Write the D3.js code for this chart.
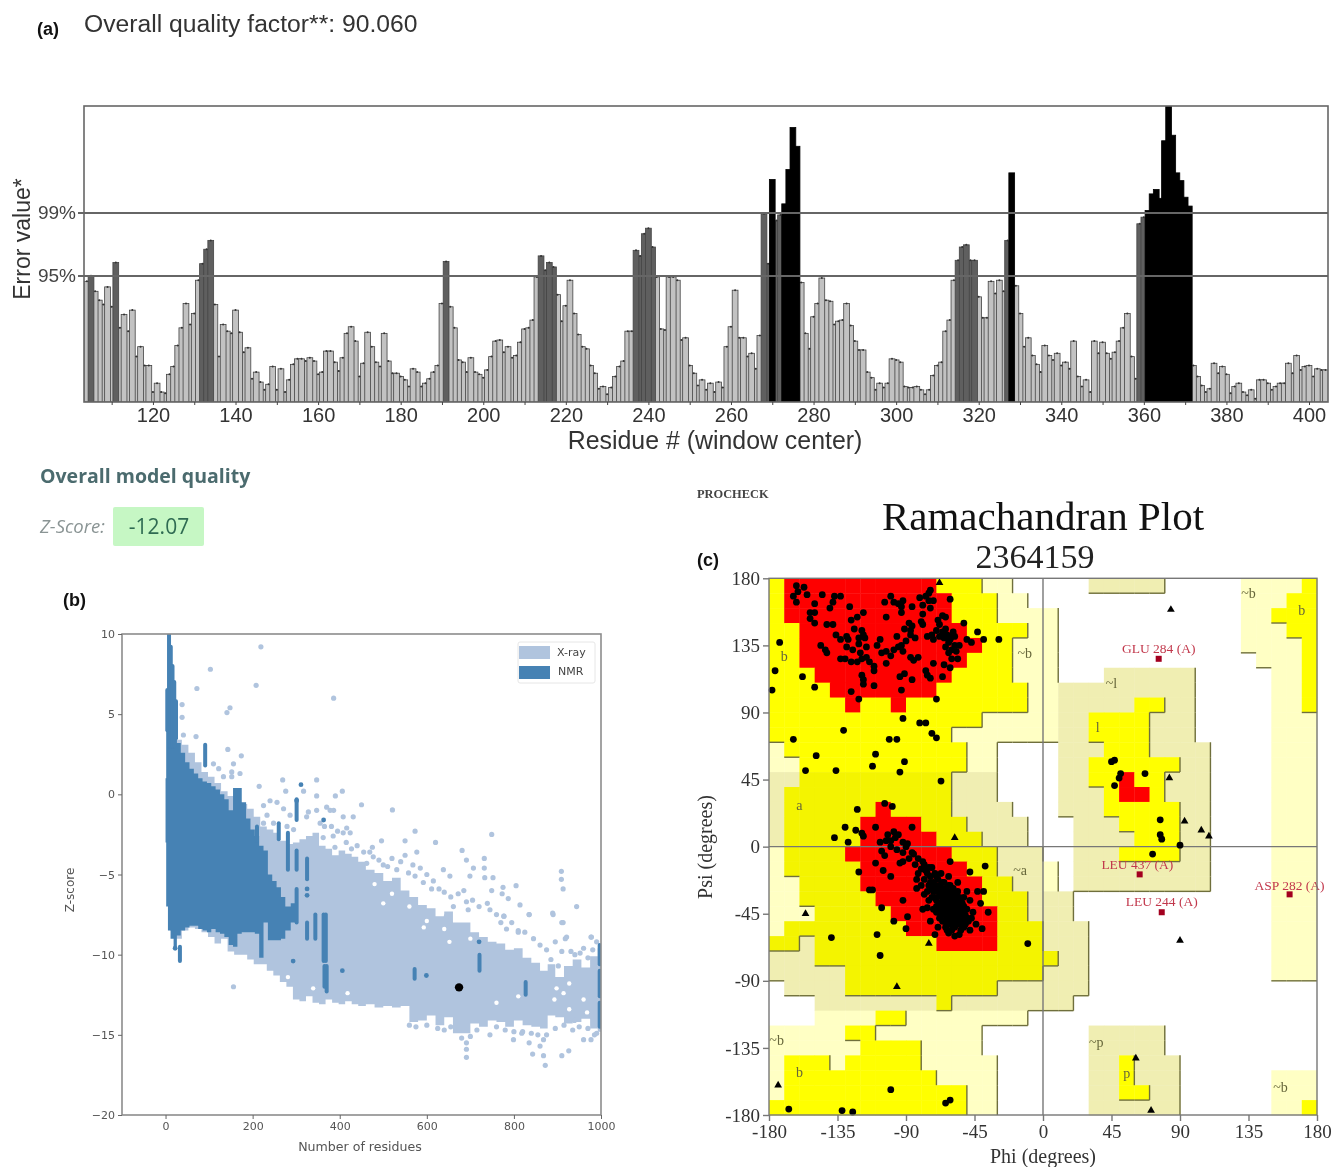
<!DOCTYPE html>
<html>
<head>
<meta charset="utf-8">
<script src="https://cdn.jsdelivr.net/npm/d3@7"></script>
<style>
  html, body { margin: 0; padding: 0; background: #fff; }
  svg { display: block; filter: blur(0.5px); }
</style>
</head>
<body>
<div id="chart"></div>
<script>
// (a) ERRAT error value per residue, first bar is residue 104
const firstResidue = 104
const errorValues = [
  10.9,11.4,10.0,9.2,8.8,10.4,8.6,12.6,6.7,7.9,
  6.4,8.3,4.1,5.0,3.3,3.3,0.9,1.7,0.9,0.8,
  2.5,3.2,5.1,6.7,8.9,7.0,8.0,11.0,12.5,13.8,
  14.6,8.8,4.1,7.0,6.4,6.2,8.3,6.3,4.5,4.9,
  2.1,2.7,1.8,1.1,1.6,3.2,1.1,3.0,0.9,2.0,
  3.4,3.9,3.9,3.7,4.0,3.7,2.5,2.7,4.6,4.6,
  3.6,2.8,4.0,6.2,6.8,5.5,2.3,3.5,6.3,5.0,
  3.6,3.2,6.2,3.7,2.6,2.6,2.3,2.0,1.4,3.0,
  2.7,1.4,1.7,2.1,2.7,3.3,8.9,12.7,8.6,6.7,
  3.8,3.6,2.7,4.0,2.7,2.5,2.2,2.9,4.1,5.5,
  5.6,4.5,5.0,4.0,4.2,5.4,6.6,6.7,7.4,11.3,
  13.2,11.9,12.6,12.2,9.7,7.3,8.7,11.0,8.0,6.1,
  5.0,4.8,3.3,2.6,1.2,1.4,0.7,1.3,2.3,3.2,
  3.7,6.4,6.4,13.7,13.2,15.2,15.7,14.0,11.3,6.6,
  6.5,11.3,11.3,11.0,5.6,5.8,3.3,2.6,1.5,2.0,
  1.1,1.7,0.9,1.8,1.3,5.0,6.8,10.1,5.8,5.8,
  4.1,4.4,3.0,6.0,17.0,12.5,20.1,16.4,16.9,17.9,
  21.0,24.8,23.1,10.8,6.2,4.8,7.7,8.9,11.2,9.2,
  9.1,7.0,7.3,7.4,8.9,6.9,5.5,4.7,4.7,2.7,
  2.2,1.1,1.7,1.3,1.7,3.9,3.8,3.6,1.4,1.3,
  1.3,1.4,1.1,0.7,1.1,2.4,3.3,3.6,6.4,7.4,
  11.0,12.8,14.0,14.2,12.8,12.8,9.5,7.6,7.6,10.9,
  9.8,11.0,10.0,14.6,20.7,10.5,8.0,5.0,5.8,4.2,
  3.4,2.7,5.1,4.2,3.8,4.4,3.3,3.6,3.0,5.5,
  2.3,1.4,2.0,0.9,5.5,4.4,5.4,4.4,3.9,4.5,
  5.5,6.7,8.0,4.1,2.1,16.1,16.7,17.3,18.8,19.2,
  18.4,23.6,27,24.1,20.7,20.0,18.5,17.7,3.3,2.3,
  1.5,0.9,1.2,3.5,2.6,3.2,2.5,0.8,1.4,1.7,
  0.9,0.6,1.1,0.3,2.0,2.0,1.7,1.1,1.4,1.7,
  1.7,3.5,2.6,4.2,2.9,3.2,3.3,2.3,3.0,2.9,
  2.9,
]
const limit95 = 11.38
const limit99 = 17.07

// (b) envelopes of the dense clouds, [residues, top z, bottom z]
const xrayBody = [
  [5,4,-6],[15,4.2,-8.5],[30,3.4,-9],[45,3.1,-8.5],[60,2.6,-8.3],[75,2,-8.4],[90,1.4,-8.6],[105,1.1,-8.9],
  [120,0.7,-9.3],[135,0.2,-9],[150,-0.1,-9.8],[165,-0.2,-10],[180,-0.6,-10],[195,-0.9,-10.3],[210,-1.4,-10.6],
  [225,-2,-10.6],[240,-2.2,-11],[255,-2.4,-11.3],[270,-2.9,-11.7],[285,-3.1,-12],[300,-3,-12.8],[315,-2.8,-12.9],
  [330,-2.6,-12.6],[345,-2.4,-13],[360,-3.2,-13.1],[375,-3.4,-12.8],[390,-3.8,-13],[405,-3.5,-13.1],[420,-3.7,-12.9],
  [435,-3.9,-13.1],[450,-4.2,-13.2],[470,-4.7,-13.1],[490,-4.9,-13.3],[510,-5.4,-13.2],[530,-5.2,-13.3],[550,-6,-13.2],
  [570,-6.4,-14.2],[590,-6.9,-14.1],[610,-7.1,-13.8],[630,-7.6,-14.4],[650,-7.3,-13.9],[670,-8,-14.9],[690,-8,-14.9],
  [710,-8.6,-14.3],[730,-8.9,-14.5],[750,-9.2,-14.1],[770,-9.3,-14.2],[790,-9.7,-14.5],[810,-9.6,-14.1],[830,-10.2,-14.4],
  [850,-10.5,-14.5],[870,-11,-14.6],[885,-10.6,-13.8],[905,-11.4,-13.9],[925,-10.7,-14.3],[945,-10.3,-14.2],[965,-10.8,-14],
  [985,-10.1,-14.6],[1000,-9.6,-14.8],
]
const nmrBody = [
  [0,1,-3],[3,4,-7],[8,5.5,-8.5],[15,5,-9],[22,4.2,-9.5],[30,3.2,-8.8],[40,2.6,-8.5],[50,2,-8.3],[60,1.6,-8.2],
  [70,1.3,-8.2],[80,1,-8.4],[90,0.8,-8.5],[100,0.7,-8.6],[110,0.5,-8.4],[120,0.3,-8.6],[130,0,-8.7],[140,-0.3,-8.9],
  [150,-1,-9.4],[160,0.4,-9.5],[170,0.4,-8.7],[180,-0.5,-8.6],[190,-1.5,-8.6],[200,-2.2,-8.6],[210,-2.6,-8.7],
  [220,-3.2,-10.2],[230,-3.5,-8],[240,-5,-9.1],[250,-5.4,-9.1],[260,-5.8,-9.1],[270,-6.4,-9],[280,-7,-8.5],[295,-6.8,-8],[305,-7,-7],
]
// vertical NMR streaks, [residues, top z, bottom z]
const nmrBands = [
  [4,6.5,4],[8,10,3],[12,9.2,3],[16,8,3],[20,7,3],[24,5.8,3.5],[91,3.1,1.8],[301,-0.3,-1.6],[260,-1.8,-2.8],[210,-2,-2.9],[281,-2.4,-4.7],
  [301,-3.5,-4.7],[325,-4,-5.3],[301,-5.9,-8],[344,-7.5,-9],[363,-7.5,-10.4],[368,-7.5,-10.4],[370,-10.7,-12.3],
  [365,-10.7,-12],[721,-10,-11],[572,-10.9,-11.5],[827,-11.7,-12.5],[997,-9.4,-10.6],[997,-11,-12.6],[997,-13,-14.5],
  [33,-9.5,-10.4],[325,-8,-9],
]
const nmrDots = [[311,0.6],[301,-0.4],[293,-10.4],[406,-11],[599,-11.3],[720,-9.2],[363,-1.6],[325,-5.9],[325,-6.3],[22,-9.6]]
const xrayDots = [
  [219,9.2],[103,7.8],[72,6.6],[208,6.8],[386,6],[38,5.6],[148,5.4],[141,5.1],[38,4.8],[41,3.7],[70,3.6],[143,2.8],[174,2.4],
  [110,1.9],[122,1.6],[156,1.9],[152,1.4],[171,1.3],[133,1.1],[152,1.1],[215,0.5],[269,0.9],[347,0.9],[276,0.2],[317,0.2],
  [347,-0.1],[390,-0.1],[406,0.2],[328,-1.1],[370,-0.8],[347,-1],[386,-1],[225,-0.7],[240,-0.4],[256,-0.5],[271,-0.9],
  [286,-1.3],[233,-1.3],[248,-1.8],[225,-1.8],[279,-2],[294,-2.2],[450,-0.65],[521,-0.97],[573,-2.3],[749,-2.5],[620,-3],
  [681,-3.5],[496,-2.9],[550,-2.9],[577,-3.6],[550,-3.8],[469,-3.6],[477,-3.9],[638,-4.7],[653,-5.1],[691,-4.1],[707,-4.6],
  [699,-5.1],[732,-4],[732,-4.6],[733,-5.2],[752,-5.2],[749,-6],[775,-5.8],[773,-6.2],[805,-5.7],[909,-4.8],[909,-5.3],
  [913,-5.9],[814,-6.9],[787,-6.5],[739,-6.8],[691,-6.7],[695,-7.2],[944,-7],[835,-7.5],[890,-7.5],[913,-8],[777,-7.6],
  [783,-8.4],[810,-8.6],[921,-8.9],[978,-8.9],[573,-5.1],[592,-5.5],[611,-5.9],[661,-7],[645,-7.6],[500,-4.4],[531,-4.7],
  [462,-4.3],[416,-2.1],[424,-2.4],[408,-2.4],[362,-2.7],[381,-2],[385,-2.6],[324,-1.4],[378,-1],[408,-1.4],[431,-1.4],
  [389,-3.3],[427,-3.4],[691,-15.5],[691,-15.9],[691,-16.4],[156,-12],[745,-15],[799,-15.3],[818,-14.9],[835,-15.5],
  [843,-16.2],[860,-15.7],[868,-15.3],[872,-16.9],[868,-16.3],[910,-16.3],[926,-16],[960,-15.3],[977,-15.3],[885,-10.3],
  [902,-10.7],[910,-9.8],[931,-9.8],[952,-9.9],[981,-9.7],[918,-9],[977,-8.9],[889,-7.4],[910,-8],[777,-7.6],[810,-8.5],
  [835,-7.5],[935,-14.7],[939,-14.1],
  [355,-1.8],[365,-2],[395,-2.3],[415,-3],[440,-3.2],[455,-3.6],[475,-3.3],[490,-4.1],[510,-4.5],[520,-4],[540,-4.2],[558,-4.9],
  [568,-4.4],[585,-4.6],[600,-5],[615,-5.4],[628,-5.9],[640,-6.1],[655,-6.4],[672,-6.2],[685,-6],[705,-6.6],[720,-7],[745,-7.2],
  [760,-7.5],[770,-8],[795,-8],[825,-8.6],[845,-9],[860,-9.4],[875,-9.7],[895,-9.2],[940,-10],[960,-9.6],[970,-10.2],[990,-9.2],
  [560,-14.4],[575,-14.5],[600,-14.4],[625,-14.6],[640,-14.7],[655,-14.5],[680,-15.2],[700,-15.1],[715,-14.7],[760,-14.5],[780,-14.7],
  [800,-14.8],[820,-14.8],[840,-14.9],[855,-15],[875,-15],[895,-14.6],[915,-14.4],[950,-14.5],[970,-14.6],[985,-15],[990,-14.9],
]
const xrayHoles = [
  [652,-9.2],[593,-8.3],[281,-11.4],[339,-12.1],[418,-12.4],[760,-13],[810,-12.6],[898,-12.1],[914,-12.4],[927,-11.8],
  [893,-12.8],[927,-13.4],[960,-12.8],[968,-13.6],[480,-5.6],[520,-6.2],[560,-7],[600,-7.9],[640,-8.4],[500,-6.8],[700,-9],
]
const modelPoint = [[674,-12.04]]

// (c) region map, 10 degree cells, rows from psi 180 down, columns from phi -180
// R core, Y allowed, A allowed (alpha shade), P generous, E generous (darker shade)
const ramaGrid = [
  'YRRRRRRRRRRYYYPP.....EEEEE.....PPPPY',
  'YRRRRRRRRRRRYYYPP..............PPPYY',
  'YRRRRRRRRRRRYYYPPPP............PPYYY',
  'YYRRRRRRRRRRRYYYYPP............PPPYY',
  'YYRRRRRRRRRRRRYYPPP............PPPPY',
  'YYRRRRRRRRRRRYYYPPP.............PPPY',
  'YYYRRRRRRRRRYYYYPPP...EEEEEE.....PPY',
  'YYYYRRRRRRRYYYYYYPPEEEEEEEEE.....PPY',
  'YYYYYRYYRYYYYYYYYPPEEEEEYYEE.....PPY',
  'YYYYYYYYYYYYYYPPPPPEEYYYYEEE.....PPP',
  'YYYYYYYYYYYYPPPPPPPEEYYYYEEE.....PPP',
  'PYYYYYYYYYYYYPP....EEEYYYEEEE....PPP',
  'PPYYYYYYYYYYYPP....EEYYYYYYEE....PPP',
  'EEAAAAAAAAAAEEE....EEYYRYYEEE....PPP',
  'EAAAAAAAAAAAEEE....EEEYRRYEEE....PPP',
  'EAAAAAARAAAAEEEE...EEEYYYYYEE....PPP',
  'EAAAAARRRRAAAEEEE...EEEYYYYEE....PPP',
  'EAAAAARRRRRAAAEEE...EEEEYYYEE....PPP',
  'PAAAARRRRRRRAAAEEE..EEEYYYYEE....PPP',
  'PAAAAARRRRRRRAAEEEP.EEEEEEEEE....PPP',
  'PPAAAARRRRRRRRAAEEP.EEEEEEEEE....PPP',
  'PPAAAAARRRRRRRAAAEEE.............PPP',
  'PPPAAAAARRRRRRRAAEEE.............PPP',
  'PAAAAAAAARRRRRRAAAEEE............PPP',
  'AAEAAAAAAAARRRRAAAEEE............PPP',
  'EEEAAAAAAAAAAAAAAAAEE............PPP',
  'EEEEEAAAAAAAAAAAAAEEE............PPP',
  '.EEEEAAAAAAAAAAEEEEEE...............',
  '...EEEEEEEEAEEEEEEEE................',
  '...PPPPYYPPPPPPPP...................',
  'PPPPPYYPPPPPPP.......EEEEE..........',
  'PPPPPPYYYYPPPP.......EEEEE..........',
  'PYYYPYYYYYPPPPP......EEYEEE.........',
  'PYYYYYYYYYYPPPP......EEYEEE......PPP',
  'PYYYYYYYYYYYYPP......EEYYEE......PPP',
  'YYYYYYYYYYYYYPP......EEEEEE......PPY',
]
const regionColors = { R: '#fe0000', Y: '#ffff00', A: '#f4f400', P: '#ffffc4', E: '#f0eeb2' }
const regionRank = { R: 3, Y: 2, A: 2, P: 1, E: 1 }

const ramaDots = [
  [-162,175],[-157,174],[-161,171],[-155,169],[-164,168],[-162,164],[-150,163],[-145,169],[-137,168],[-133,168],[-138,164],
  [-140,160],[-127,161],[-153,157],[-150,157],[-153,153],[-150,150],[-118,157],[-122,154],[-126,152],[-104,164],[-98,164],
  [-95,163],[-93,161],[-103,154],[-93,157],[-86,161],[-81,167],[-77,168],[-74,172],[-75,165],[-79,162],[-74,160],[-61,166],
  [-66,155],[-64,154],[-69,152],[-52,150],[-88,150],[-86,148],[-80,151],[-79,149],[-142,149],[-138,149],[-136,142],[-133,139],
  [-129,141],[-128,139],[-119,145],[-118,142],[-121,140],[-117,140],[-121,136],[-107,139],[-109,135],[-96,141],[-87,145],
  [-91,146],[-87,142],[-76,141],[-73,142],[-70,145],[-66,144],[-63,142],[-59,144],[-58,141],[-61,139],[-64,134],[-60,132],
  [-57,131],[-62,130],[-50,139],[-47,137],[-43,144],[-39,139],[-29,139],[-173,137],[-146,135],[-143,132],[-142,130],[-103,131],
  [-98,132],[-95,134],[-93,135],[-92,131],[-87,127],[-85,125],[-82,127],[-125,132],[-120,130],[-133,126],[-130,126],[-126,124],
  [-122,124],[-119,126],[-114,124],[-111,121],[-111,118],[-103,123],[-72,123],[-65,122],[-61,120],[-91,116],[-94,114],[-86,112],
  [-77,118],[-76,115],[-74,113],[-66,114],[-119,115],[-118,112],[-118,109],[-111,108],[-93,105],[-126,104],[-121,99],[-70,99],
  [-158,114],[-176,118],[-178,105],[-150,107],
  [-65,140],[-62,137],[-60,141],[-68,141],[-72,139],[-58,135],[-55,135],[-64,146],[-68,149],[-79,156],[-75,170],[-72,165],
  [-100,168],[-92,165],[-84,140],[-90,138],[-100,128],[-106,130],[-116,134],[-124,146],[-129,134],[-116,127],[-60,126],[-56,126],
  // below the beta region
  [-92,86],[-81,83],[-77,83],[-73,76],[-70,73],[-131,78],[-164,72],[-101,72],[-96,72],[-149,61],[-110,62],[-112,54],[-91,57],
  [-94,50],[-156,51],[-136,51],[-67,44],[-122,25],[-104,29],[-99,27],
  // alpha region
  [-137,6],[-130,13],[-128,3],[-123,11],[-119,9],[-110,13],[-98,10],[-86,13],[-118,7],[-107,3],[-106,-3],[-103,4],[-100,0],[-97,6],
  [-89,2],[-92,-4],[-104,-6],[-110,-11],[-105,-16],[-100,-20],[-121,-17],[-114,-29],[-112,-29],[-94,-11],[-92,-36],[-106,-41],
  [-98,-50],[-89,-47],[-90,-55],[-109,-59],[-107,-73],[-139,-61],[-79,-42],[-76,-41],[-71,-59],[-62,-58],[-55,-59],[-40,-55],
  [-47,-48],[-36,-44],[-41,-38],[-43,-30],[-39,-30],[-48,-17],[-38,-13],[-61,-10],[-10,-65],
  [-84,-12],[-82,-18],[-80,-15],[-78,-22],[-78,-12],[-76,-18],[-75,-26],[-74,-20],[-73,-14],[-72,-30],[-72,-24],[-71,-18],[-70,-36],
  [-70,-28],[-69,-22],[-68,-33],[-68,-26],[-67,-40],[-67,-18],[-66,-36],[-66,-30],[-65,-44],[-65,-24],[-64,-40],[-64,-34],[-64,-28],
  [-63,-48],[-63,-44],[-62,-38],[-62,-32],[-62,-52],[-61,-42],[-61,-26],[-60,-46],[-60,-36],[-60,-30],[-59,-50],[-59,-40],[-58,-44],
  [-58,-34],[-58,-54],[-57,-48],[-57,-38],[-56,-42],[-56,-30],[-55,-52],[-55,-46],[-54,-36],[-54,-56],[-53,-50],[-53,-42],[-52,-46],
  [-51,-52],[-50,-42],[-49,-50],[-70,-44],[-72,-42],[-68,-48],[-66,-50],[-64,-54],[-60,-56],[-75,-36],[-78,-32],[-80,-26],[-85,-5],
  [-88,-8],[-90,0],[-92,3],[-95,8],[-102,8],[-100,4],[-96,-2],[-92,-10],[-86,-4],[-83,-28],[-62,-20],[-56,-24],[-50,-30],[-48,-36],
  [-46,-44],[-52,-34],[-69,-54],[-74,-50],[-58,-60],[-48,-56],[-44,-52],
  [-79,-10],[-77,-16],[-75,-14],[-74,-24],[-73,-28],[-71,-26],[-71,-34],[-70,-20],[-69,-30],[-69,-40],[-68,-38],[-67,-28],[-67,-46],
  [-66,-42],[-66,-24],[-65,-32],[-65,-38],[-65,-50],[-64,-46],[-63,-36],[-63,-30],[-63,-56],[-62,-44],[-62,-26],[-61,-36],[-61,-50],
  [-60,-40],[-60,-52],[-59,-34],[-59,-44],[-58,-38],[-58,-48],[-57,-42],[-57,-52],[-57,-32],[-56,-36],[-56,-48],[-55,-40],[-55,-34],
  [-54,-44],[-54,-50],[-53,-38],[-52,-40],[-52,-54],[-51,-46],[-50,-48],[-61,-32],[-59,-28],[-68,-44],[-64,-50],[-70,-40],[-73,-34],
  [-76,-30],[-82,-8],[-83,-22],
  // left-handed helix and lower strand
  [45,57],[47,58],[51,49],[50,46],[47,41],[67,49],[77,18],[77,8],[78,5],[90,1],[72,-5],
  [-167,-176],[-132,-177],[-125,-178],[-100,-163],[-64,-172],[-61,-170],
]
const ramaTriangles = [
  [-68,177],[-58,6],[-75,-65],[-156,-45],[-96,-94],[-174,-160],[84,159],[83,46],[93,17],[104,11],[109,7],[90,-63],[61,-142],[71,-177],
]
const ramaOutliers = [
  { name: 'GLU 284 (A)', phi: 76, psi: 126, lx: 76, ly: 130 },
  { name: 'LEU 437 (A)', phi: 63.5, psi: -18.6, lx: 62, ly: -15 },
  { name: 'LEU 244 (A)', phi: 78, psi: -44, lx: 78, ly: -40 },
  { name: 'ASP 282 (A)', phi: 162, psi: -32, lx: 162, ly: -29 },
]
const regionLabels = [
  ['b',-170,128],['a',-160,28],['~b',-12,130],['~a',-15,-16],['~l',45,110],['l',36,80],['~b',135,170],['b',170,159],
  ['~p',35,-131],['p',55,-152],['~b',156,-161],['~b',-175,-130],['b',-160,-151],
]
const ramaTicks = [-180,-135,-90,-45,0,45,90,135,180]

const svg = d3.select('#chart').append('svg').attr('width', 1333).attr('height', 1167)

function label(txt, x, y, opts) {
  const o = opts || {}
  return svg
    .append('text')
    .attr('x', x)
    .attr('y', y)
    .attr('font-family', o.font || 'Liberation Sans')
    .attr('font-size', o.size || 16)
    .attr('font-weight', o.weight || 'normal')
    .attr('font-style', o.style || 'normal')
    .attr('fill', o.fill || '#222')
    .attr('text-anchor', o.anchor || 'start')
    .text(txt)
}

label('(a)', 37, 35, { size: 18, weight: 'bold', fill: '#111' })
label('(b)', 63, 606, { size: 18, weight: 'bold', fill: '#111' })
label('(c)', 697, 566, { size: 18, weight: 'bold', fill: '#111' })

// ---- panel a: error values per residue ----
function drawErrat() {
  const x = d3.scaleLinear().domain([103.3, 404.6]).range([84, 1328])
  const y = d3.scaleLinear().domain([0, 26.74]).range([402, 106])
  const step = x(1) - x(0)
  const bars = errorValues.map((v, i) => ({ res: firstResidue + i, v }))
  const color = (v) => (v >= limit99 ? '#000' : v >= limit95 ? '#5f5f5f' : '#c2c2c2')

  svg.append('clipPath').attr('id', 'erratClip').append('rect').attr('x', 84).attr('y', 106).attr('width', 1244).attr('height', 296)

  label('Overall quality factor**: 90.060', 84, 32, { size: 24.7, fill: '#333' })

  svg
    .append('g')
    .attr('clip-path', 'url(#erratClip)')
    .selectAll('rect')
    .data(bars.slice().sort((a, b) => a.v - b.v))
    .join('rect')
    .attr('x', (d) => x(d.res) - step * 0.7)
    .attr('width', step * 1.4)
    .attr('y', (d) => y(d.v))
    .attr('height', (d) => y(0) - y(d.v))
    .attr('fill', (d) => color(d.v))
    .attr('stroke', (d) => (d.v >= limit99 ? '#000' : '#444'))
    .attr('stroke-width', 0.8)

  svg
    .append('g')
    .selectAll('circle')
    .data(bars.filter((d) => d.v < limit99))
    .join('circle')
    .attr('cx', (d) => x(d.res))
    .attr('cy', (d) => y(d.v))
    .attr('r', 1)
    .attr('fill', '#333')

  const lines = [[limit95, '95%'], [limit99, '99%']]
  lines.forEach((l) => {
    svg
      .append('line')
      .attr('x1', 78)
      .attr('x2', 1328)
      .attr('y1', y(l[0]))
      .attr('y2', y(l[0]))
      .attr('stroke', '#666')
      .attr('stroke-width', 2)
    label(l[1], 76, y(l[0]) + 6, { size: 19, anchor: 'end', fill: '#444' })
  })

  svg
    .append('rect')
    .attr('x', 84)
    .attr('y', 106)
    .attr('width', 1244)
    .attr('height', 296)
    .attr('fill', 'none')
    .attr('stroke', '#666')
    .attr('stroke-width', 1.6)

  const axis = svg
    .append('g')
    .attr('transform', 'translate(0,402)')
    .call(d3.axisBottom(x).tickValues(d3.range(110, 404, 10)).tickSize(3).tickPadding(1).tickFormat((d) => (d % 20 === 0 ? d : '')))
  axis.select('.domain').remove()
  axis.selectAll('line').attr('stroke', '#444')
  axis.selectAll('text').attr('font-family', 'Liberation Sans').attr('font-size', 20).attr('fill', '#333').attr('dy', '0.78em')

  label('Residue # (window center)', 715, 449, { size: 24.9, anchor: 'middle', fill: '#333' })
  label('Error value*', 30, 239, { size: 23, anchor: 'middle', fill: '#333' }).attr('transform', 'rotate(-90,30,239)')
}

function drawZScore() {
  label('Overall model quality', 40, 483, { size: 19.5, weight: 'bold', fill: '#4b6b6e', font: 'Open Sans' })
  label('Z-Score:', 40, 533, { size: 18.5, fill: '#8a9494', style: 'italic', font: 'Open Sans' })
  svg.append('rect').attr('x', 113).attr('y', 507).attr('width', 91).attr('height', 39).attr('rx', 2).attr('fill', '#c6f7c4')
  label('-12.07', 159, 534, { size: 21, anchor: 'middle', fill: '#2f6b52', font: 'Open Sans' })
}

// ---- panel b: z-score against chain length ----
function drawProsa() {
  const x = d3.scaleLinear().domain([-100, 1000]).range([122, 601])
  const y = d3.scaleLinear().domain([-20, 10]).range([1115, 634])
  const xray = '#b0c4de'
  const nmr = '#4682b4'
  const body = d3.area().curve(d3.curveStep).x((d) => x(d[0])).y0((d) => y(d[2])).y1((d) => y(d[1]))

  svg.append('clipPath').attr('id', 'prosaClip').append('rect').attr('x', 122).attr('y', 634).attr('width', 479).attr('height', 481)
  const g = svg.append('g').attr('clip-path', 'url(#prosaClip)')

  g.append('path').attr('d', body(xrayBody)).attr('fill', xray)
  g.append('g').selectAll('circle').data(xrayHoles).join('circle')
    .attr('cx', (d) => x(d[0])).attr('cy', (d) => y(d[1])).attr('r', 2.2).attr('fill', '#fff')
  g.append('g').selectAll('circle').data(xrayDots).join('circle')
    .attr('cx', (d) => x(d[0])).attr('cy', (d) => y(d[1])).attr('r', 2.6).attr('fill', xray)

  g.append('path').attr('d', body(nmrBody)).attr('fill', nmr)
  g.append('g').selectAll('line').data(nmrBands).join('line')
    .attr('x1', (d) => x(d[0])).attr('x2', (d) => x(d[0]))
    .attr('y1', (d) => y(d[1])).attr('y2', (d) => y(d[2]))
    .attr('stroke', nmr).attr('stroke-width', 4).attr('stroke-linecap', 'round')
  g.append('g').selectAll('circle').data(nmrDots).join('circle')
    .attr('cx', (d) => x(d[0])).attr('cy', (d) => y(d[1])).attr('r', 2.4).attr('fill', nmr)
  g.append('g').selectAll('circle').data(modelPoint).join('circle')
    .attr('cx', (d) => x(d[0])).attr('cy', (d) => y(d[1])).attr('r', 4.2).attr('fill', '#000')

  svg.append('rect').attr('x', 122).attr('y', 634).attr('width', 479).attr('height', 481)
    .attr('fill', 'none').attr('stroke', '#8c8c8c').attr('stroke-width', 1.6)

  const ax = svg.append('g').attr('transform', 'translate(0,1115)').call(d3.axisBottom(x).tickValues([0, 200, 400, 600, 800, 1000]).tickSize(4).tickFormat((d) => String(d)))
  const ay = svg.append('g').attr('transform', 'translate(122,0)').call(d3.axisLeft(y).tickValues([-20, -15, -10, -5, 0, 5, 10]).tickSize(4).tickFormat((d) => String(d).replace('-', '\u2212')))
  ;[ax, ay].forEach((a) => {
    a.select('.domain').remove()
    a.selectAll('line').attr('stroke', '#666')
    a.selectAll('text').attr('font-family', 'DejaVu Sans').attr('font-size', 11).attr('fill', '#555')
  })
  label('Number of residues', 360, 1151, { size: 12.6, anchor: 'middle', fill: '#555', font: 'DejaVu Sans' })
  label('Z-score', 74, 890, { size: 12, anchor: 'middle', fill: '#555', font: 'DejaVu Sans' }).attr('transform', 'rotate(-90,74,890)')

  svg.append('rect').attr('x', 518).attr('y', 642).attr('width', 77).attr('height', 41).attr('rx', 2).attr('fill', '#fff').attr('stroke', '#e6e6e6')
  svg.append('rect').attr('x', 519).attr('y', 646).attr('width', 31).attr('height', 13).attr('fill', xray)
  svg.append('rect').attr('x', 519).attr('y', 666).attr('width', 31).attr('height', 13).attr('fill', nmr)
  label('X-ray', 557, 656, { size: 11, fill: '#444', font: 'DejaVu Sans' })
  label('NMR', 558, 675, { size: 11, fill: '#444', font: 'DejaVu Sans' })
}

// ---- panel c: Ramachandran plot ----
function drawRama() {
  const x = d3.scaleLinear().domain([-180, 180]).range([769, 1317])
  const y = d3.scaleLinear().domain([-180, 180]).range([1115, 578.3])
  const serif = 'Liberation Serif'
  const cells = []
  const edges = []
  ramaGrid.forEach((row, j) => {
    for (let i = 0; i < 36; i++) {
      const c = row[i]
      const phi = -180 + i * 10
      const psi = 180 - j * 10
      if (c !== '.') cells.push({ c, phi, psi })
      const rank = regionRank[c] || 0
      if (rank === 0 || rank === 3) continue
      const right = row[i + 1]
      const below = ramaGrid[j + 1] ? ramaGrid[j + 1][i] : undefined
      if (right !== undefined && (regionRank[right] || 0) < rank) edges.push([phi + 10, psi, phi + 10, psi - 10])
      if (below !== undefined && (regionRank[below] || 0) < rank) edges.push([phi, psi - 10, phi + 10, psi - 10])
    }
  })

  svg.append('g').selectAll('rect').data(cells).join('rect')
    .attr('x', (d) => x(d.phi)).attr('y', (d) => y(d.psi))
    .attr('width', x(-170) - x(-180) + 0.4).attr('height', y(170) - y(180) + 0.4)
    .attr('fill', (d) => regionColors[d.c])

  svg.append('g').selectAll('line').data(edges).join('line')
    .attr('x1', (d) => x(d[0])).attr('y1', (d) => y(d[1])).attr('x2', (d) => x(d[2])).attr('y2', (d) => y(d[3]))
    .attr('stroke', '#6f6f3c').attr('stroke-width', 1.4)

  // phi = 0 and psi = 0 guide lines
  svg.append('line').attr('x1', x(0)).attr('x2', x(0)).attr('y1', y(180)).attr('y2', y(-180)).attr('stroke', '#777').attr('stroke-width', 1.4)
  svg.append('line').attr('x1', x(-180)).attr('x2', x(180)).attr('y1', y(0)).attr('y2', y(0)).attr('stroke', '#777').attr('stroke-width', 1.4)

  svg.append('g').selectAll('text').data(regionLabels).join('text')
    .attr('x', (d) => x(d[1])).attr('y', (d) => y(d[2]))
    .attr('text-anchor', 'middle').attr('dy', '0.35em')
    .attr('font-family', serif).attr('font-size', 14).attr('fill', '#66663a')
    .text((d) => d[0])

  svg.append('g').selectAll('circle').data(ramaDots).join('circle')
    .attr('cx', (d) => x(d[0])).attr('cy', (d) => y(d[1])).attr('r', 3.4).attr('fill', '#000')
  svg.append('g').selectAll('path').data(ramaTriangles).join('path')
    .attr('d', d3.symbol().type(d3.symbolTriangle).size(26))
    .attr('transform', (d) => `translate(${x(d[0])},${y(d[1])})`)
    .attr('fill', '#000')

  svg.append('g').selectAll('rect').data(ramaOutliers).join('rect')
    .attr('x', (d) => x(d.phi) - 3).attr('y', (d) => y(d.psi) - 3).attr('width', 6).attr('height', 6).attr('fill', '#a3001f')
  svg.append('g').selectAll('text').data(ramaOutliers).join('text')
    .attr('x', (d) => x(d.lx)).attr('y', (d) => y(d.ly))
    .attr('text-anchor', 'middle')
    .attr('font-family', serif).attr('font-size', 13.5).attr('fill', '#c2384c')
    .text((d) => d.name)

  svg.append('rect').attr('x', x(-180)).attr('y', y(180)).attr('width', x(180) - x(-180)).attr('height', y(-180) - y(180))
    .attr('fill', 'none').attr('stroke', '#777').attr('stroke-width', 1.4)

  const ax = svg.append('g').attr('transform', `translate(0,${y(-180)})`).call(d3.axisBottom(x).tickValues(ramaTicks).tickSize(6).tickPadding(4).tickFormat((d) => String(d)))
  const ay = svg.append('g').attr('transform', `translate(${x(-180)},0)`).call(d3.axisLeft(y).tickValues(ramaTicks).tickSize(6).tickPadding(3).tickFormat((d) => String(d)))
  ;[ax, ay].forEach((a) => {
    a.select('.domain').remove()
    a.selectAll('line').attr('stroke', '#777').attr('stroke-width', 1.4)
    a.selectAll('text').attr('font-family', serif).attr('font-size', 19).attr('fill', '#333')
  })

  label('PROCHECK', 697, 498, { size: 12.4, font: serif, fill: '#444', weight: 'bold' })
  label('Ramachandran Plot', 1043, 530, { size: 41, anchor: 'middle', font: serif, fill: '#111' })
  label('2364159', 1035, 568, { size: 34, anchor: 'middle', font: serif, fill: '#222' })
  label('Phi (degrees)', 1043, 1163, { size: 20, anchor: 'middle', font: serif, fill: '#333' })
  label('Psi (degrees)', 712, 847, { size: 20, anchor: 'middle', font: serif, fill: '#333' }).attr('transform', 'rotate(-90,712,847)')
}

drawErrat()
drawZScore()
drawProsa()
drawRama()
</script>
</body>
</html>
